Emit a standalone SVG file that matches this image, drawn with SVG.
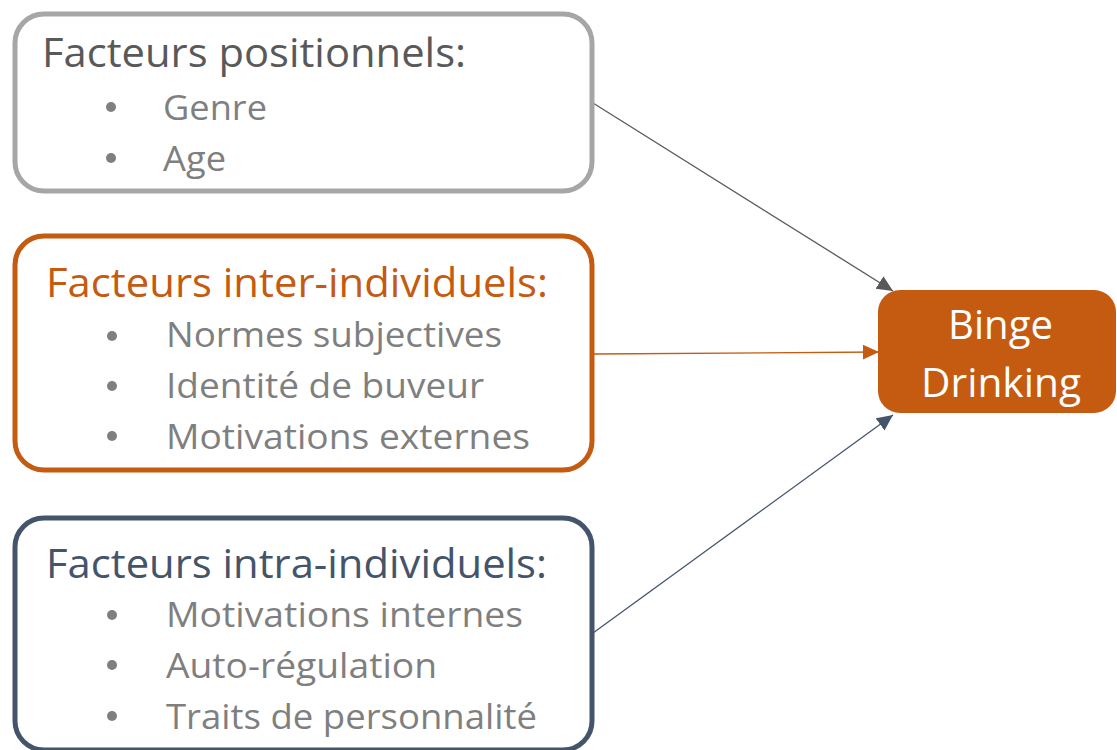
<svg xmlns="http://www.w3.org/2000/svg" width="1117" height="750" viewBox="0 0 1117 750">
<style>
  .box { fill: #ffffff; stroke-width: 5; }
  .hd { font-family: "Open Sans", "Noto Sans", sans-serif; font-size: 40px; }
  .it { font-family: "Open Sans", "Noto Sans", sans-serif; font-size: 35px; fill: #7f7f7f; }
  .dot { fill: #7f7f7f; }
  .wt { font-family: "Open Sans", "Noto Sans", sans-serif; font-size: 40px; fill: #ffffff; }
  .conn { fill: none; stroke-width: 1.3; }
</style>
<defs>
  <marker id="ahGrey" markerUnits="userSpaceOnUse" markerWidth="18" markerHeight="16" refX="16" refY="7.5" orient="auto">
    <path d="M0,0 L16,7.5 L0,15 Z" fill="#595959"/>
  </marker>
  <marker id="ahOrange" markerUnits="userSpaceOnUse" markerWidth="18" markerHeight="16" refX="16" refY="7.5" orient="auto">
    <path d="M0,0 L16,7.5 L0,15 Z" fill="#c55a11"/>
  </marker>
  <marker id="ahBlue" markerUnits="userSpaceOnUse" markerWidth="18" markerHeight="16" refX="16" refY="7.5" orient="auto">
    <path d="M0,0 L16,7.5 L0,15 Z" fill="#44546a"/>
  </marker>
</defs>
<rect width="1117" height="750" fill="#ffffff"/>

<g id="connectors">
  <line class="conn" x1="593" y1="103" x2="893" y2="291" stroke="#595959" marker-end="url(#ahGrey)"/>
  <line class="conn" x1="593" y1="354" x2="879" y2="352" stroke="#c55a11" marker-end="url(#ahOrange)"/>
  <line class="conn" x1="593" y1="633" x2="893" y2="415" stroke="#44546a" marker-end="url(#ahBlue)"/>
</g>

<g id="node-positionnels">
  <rect class="box" x="15" y="14" width="577" height="177" rx="29" stroke="#a6a6a6"/>
  <text class="hd" x="42" y="67" fill="#595959" textLength="424" lengthAdjust="spacingAndGlyphs">Facteurs positionnels:</text>
  <circle class="dot" cx="111" cy="107" r="5"/>
  <text class="it" x="163" y="120" textLength="104" lengthAdjust="spacingAndGlyphs">Genre</text>
  <circle class="dot" cx="111" cy="158" r="5"/>
  <text class="it" x="163" y="171" textLength="63" lengthAdjust="spacingAndGlyphs">Age</text>
</g>

<g id="node-inter">
  <rect class="box" x="15" y="236" width="577" height="234" rx="29" stroke="#c55a11"/>
  <text class="hd" x="46" y="297" fill="#c55a11" textLength="502" lengthAdjust="spacingAndGlyphs">Facteurs inter-individuels:</text>
  <circle class="dot" cx="112" cy="336" r="5"/>
  <text class="it" x="166" y="347" textLength="336" lengthAdjust="spacingAndGlyphs">Normes subjectives</text>
  <circle class="dot" cx="112" cy="386" r="5"/>
  <text class="it" x="166" y="398" textLength="318" lengthAdjust="spacingAndGlyphs">Identité de buveur</text>
  <circle class="dot" cx="112" cy="436" r="5"/>
  <text class="it" x="166" y="449" textLength="364" lengthAdjust="spacingAndGlyphs">Motivations externes</text>
</g>

<g id="node-intra">
  <rect class="box" x="15" y="518" width="577" height="232" rx="29" stroke="#44546a"/>
  <text class="hd" x="46" y="578" fill="#44546a" textLength="501" lengthAdjust="spacingAndGlyphs">Facteurs intra-individuels:</text>
  <circle class="dot" cx="112" cy="615" r="5"/>
  <text class="it" x="166" y="627" textLength="357" lengthAdjust="spacingAndGlyphs">Motivations internes</text>
  <circle class="dot" cx="112" cy="665" r="5"/>
  <text class="it" x="166" y="678" textLength="271" lengthAdjust="spacingAndGlyphs">Auto-régulation</text>
  <circle class="dot" cx="112" cy="716" r="5"/>
  <text class="it" x="166" y="729" textLength="371" lengthAdjust="spacingAndGlyphs">Traits de personnalité</text>
</g>

<g id="node-binge">
  <rect x="878" y="290" width="238" height="123" rx="22" fill="#c55a11"/>
  <text class="wt" x="948" y="339" textLength="105" lengthAdjust="spacingAndGlyphs">Binge</text>
  <text class="wt" x="921" y="397" textLength="160" lengthAdjust="spacingAndGlyphs">Drinking</text>
</g>
</svg>
